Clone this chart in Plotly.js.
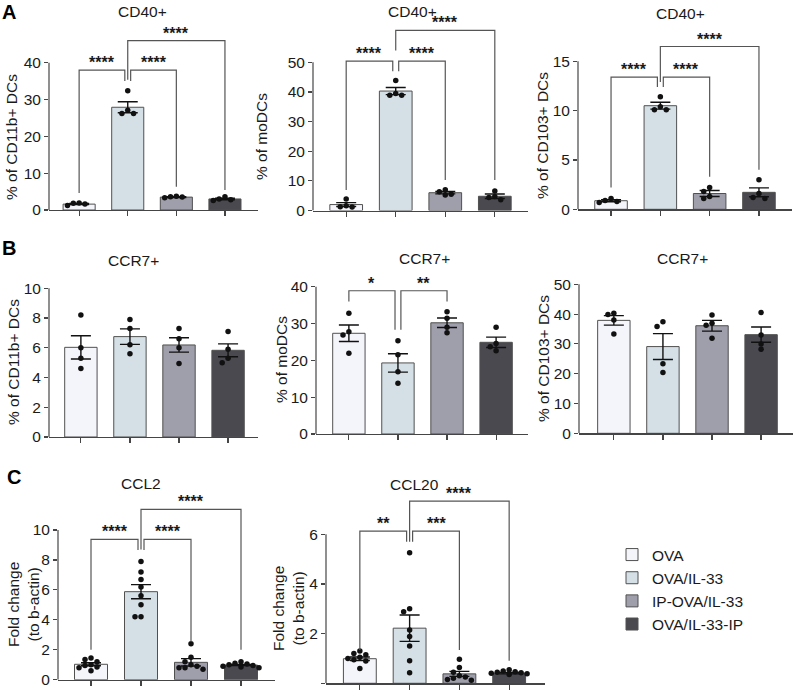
<!DOCTYPE html>
<html><head><meta charset="utf-8">
<script src="https://cdn.plot.ly/plotly-3.0.1.min.js"></script>
<style>html,body{margin:0;padding:0;background:#fff}#chart{width:796px;height:691px}</style>
</head><body><div id="chart"></div>
<script>
// ---------- DATA ----------
const groups = ['OVA', 'OVA/IL-33', 'IP-OVA/IL-33', 'OVA/IL-33-IP'];

// A: CD40+
const cd40Cd11bMean = [1.6, 27.9, 3.5, 3.0];
const cd40Cd11bSem  = [0.15, 1.5, 0.1, 0.2];
const cd40Cd11bDots = [[1.2, 1.6, 1.8, 1.9], [32.4, 26.2, 27.1, 26.2], [3.3, 3.6, 3.7, 3.5], [2.6, 3.0, 3.6, 2.8]];

const cd40MoMean = [2.0, 40.3, 6.0, 4.8];
const cd40MoSem  = [0.65, 1.2, 0.4, 0.75];
const cd40MoDots = [[3.9, 1.3, 1.6, 1.2], [43.9, 38.9, 39.5, 38.9], [5.5, 7.0, 6.3, 5.2], [3.6, 6.6, 4.7, 4.4]];

const cd40Cd103Mean = [0.87, 10.5, 1.6, 1.72];
const cd40Cd103Sem  = [0.1, 0.35, 0.3, 0.45];
const cd40Cd103Dots = [[1.1, 0.9, 0.7, 0.8], [11.4, 10.1, 10.1, 10.4], [2.2, 1.8, 1.3, 1.1], [3.0, 1.6, 1.2, 1.1]];

// B: CCR7+
const ccr7Cd11bMean = [6.03, 6.75, 6.19, 5.83];
const ccr7Cd11bSem  = [0.78, 0.52, 0.48, 0.43];
const ccr7Cd11bDots = [[8.2, 6.0, 4.6, 5.3], [7.9, 7.3, 5.6, 6.2], [7.3, 6.6, 6.0, 4.95], [7.1, 5.9, 5.3, 5.0]];

const ccr7MoMean = [27.35, 19.3, 30.2, 24.9];
const ccr7MoSem  = [2.25, 2.5, 1.3, 1.4];
const ccr7MoDots = [[32.8, 27.8, 26.9, 21.9], [25.3, 21.5, 16.9, 13.8], [33.2, 31.4, 29.0, 27.5], [29.0, 24.6, 23.7, 22.6]];

const ccr7Cd103Mean = [37.9, 29.1, 36.1, 33.1];
const ccr7Cd103Sem  = [1.6, 4.35, 1.8, 2.55];
const ccr7Cd103Dots = [[39.9, 40.3, 38.0, 33.3], [37.4, 35.8, 23.3, 20.4], [39.7, 36.9, 36.3, 31.9], [40.5, 33.0, 30.0, 28.2]];

// C: chemokines
const ccl2Mean = [1.03, 5.88, 1.16, 0.98];
const ccl2Sem  = [0.1, 0.47, 0.25, 0.04];
const ccl2Dots = [[1.45, 1.35, 1.2, 1.0, 0.95, 0.85, 0.8, 0.6], [7.9, 7.2, 6.7, 6.2, 5.6, 5.0, 4.2, 4.2],
                  [2.4, 1.5, 1.2, 1.0, 0.9, 0.8, 0.8, 0.7], [1.2, 1.1, 1.05, 1.0, 0.95, 0.9, 0.85, 0.8]];

const ccl20Mean = [0.99, 2.22, 0.38, 0.41];
const ccl20Sem  = [0.07, 0.53, 0.1, 0.03];
const ccl20Dots = [[1.3, 1.2, 1.15, 1.05, 1.0, 0.95, 0.9, 0.6], [5.26, 3.0, 2.88, 2.15, 1.88, 1.5, 0.91, 0.43],
                   [0.97, 0.64, 0.45, 0.3, 0.25, 0.2, 0.15, 0.12], [0.55, 0.5, 0.47, 0.45, 0.42, 0.4, 0.38, 0.35]];

// significance brackets: [from, to, line level, drop end at "from", drop end at "to", label]
const cd40Cd11bSig = [[0, 1, 38, 4.6, 35, '****'], [1, 2, 38, 35, 6.3, '****'], [1, 3, 46, 35.4, 5.4, '****']];
const cd40MoSig    = [[0, 1, 50.4, 6.9, 47, '****'], [1, 2, 50.4, 47, 10.3, '****'], [1, 3, 60.8, 54, 10.3, '****']];
const cd40Cd103Sig = [[0, 1, 13.4, 2.2, 12.4, '****'], [1, 2, 13.4, 12.4, 3.3, '****'], [1, 3, 16.5, 12.9, 4.0, '****']];
const ccr7MoSig    = [[0, 1, 38.9, 36, 28.3, '*'], [1, 2, 38.9, 28.3, 36, '**']];
const ccl2Sig      = [[0, 1, 9.38, 2.0, 8.66, '****'], [1, 2, 9.38, 8.66, 2.54, '****'], [1, 3, 11.38, 8.7, 2.0, '****']];
const ccl20Sig     = [[0, 1, 6.13, 1.34, 5.7, '**'], [1, 2, 6.13, 5.7, 1.34, '***'], [1, 3, 7.34, 5.7, 0.91, '****']];

// ---------- LAYOUT / STYLE ----------
const W = 796, H = 691;
const FONT = '"Liberation Sans", Arial, sans-serif';
const TXT = '#1a1a1a';
const AXC = '#454545';
const colors = ['#f4f4fb', '#d5e0e6', '#9f9eab', '#4a4950'];

const panels = [
  {mean: cd40Cd11bMean, sem: cd40Cd11bSem, dots: cd40Cd11bDots, sig: cd40Cd11bSig, title: 'CD40+', ytitle: '% of CD11b+ DCs',
   ticks: [0, 10, 20, 30, 40], xL: 49, xR: 258, xr: [-0.62, 3.68], y0: 210, tPx: 62.7, yTop: 47.5, titleXY: [142, 11], ytXY: [12, 137]},
  {mean: cd40MoMean, sem: cd40MoSem, dots: cd40MoDots, sig: cd40MoSig, title: 'CD40+', ytitle: '% of moDCs',
   ticks: [0, 10, 20, 30, 40, 50], xL: 313, xR: 528, xr: [-0.67, 3.67], y0: 210.5, tPx: 62.3, yTop: 62, titleXY: [412, 12], ytXY: [262, 137]},
  {mean: cd40Cd103Mean, sem: cd40Cd103Sem, dots: cd40Cd103Dots, sig: cd40Cd103Sig, title: 'CD40+', ytitle: '% of CD103+ DCs',
   ticks: [0, 5, 10, 15], xL: 578, xR: 792, xr: [-0.67, 3.67], y0: 209.3, tPx: 61.3, yTop: 17.2, titleXY: [680, 13], ytXY: [542, 136]},
  {mean: ccr7Cd11bMean, sem: ccr7Cd11bSem, dots: ccr7Cd11bDots, sig: [], title: 'CCR7+', ytitle: '% of CD11b+ DCs',
   ticks: [0, 2, 4, 6, 8, 10], xL: 49, xR: 258, xr: [-0.65, 3.61], y0: 437, tPx: 288.3, yTop: 10.5, titleXY: [133, 260], ytXY: [14, 362]},
  {mean: ccr7MoMean, sem: ccr7MoSem, dots: ccr7MoDots, sig: ccr7MoSig, title: 'CCR7+', ytitle: '% of moDCs',
   ticks: [0, 10, 20, 30, 40], xL: 316, xR: 528, xr: [-0.67, 3.65], y0: 434, tPx: 286.7, yTop: 42, titleXY: [424, 258], ytXY: [281, 360]},
  {mean: ccr7Cd103Mean, sem: ccr7Cd103Sem, dots: ccr7Cd103Dots, sig: [], title: 'CCR7+', ytitle: '% of CD103+ DCs',
   ticks: [0, 10, 20, 30, 40, 50], xL: 579, xR: 793, xr: [-0.71, 3.65], y0: 433.3, tPx: 284.3, yTop: 51, titleXY: [682, 258], ytXY: [543, 359]},
  {mean: ccl2Mean, sem: ccl2Sem, dots: ccl2Dots, sig: ccl2Sig, title: 'CCL2', ytitle: 'Fold change<br>(to b-actin)',
   ticks: [0, 2, 4, 6, 8, 10], xL: 58, xR: 275, xr: [-0.66, 3.68], y0: 679.7, tPx: 530, yTop: 11.8, titleXY: [141, 483], ytXY: [23, 605]},
  {mean: ccl20Mean, sem: ccl20Sem, dots: ccl20Dots, sig: ccl20Sig, title: 'CCL20', ytitle: 'Fold change<br>(to b-actin)',
   ticks: [0, 2, 4, 6], xL: 326, xR: 545, xr: [-0.68, 3.72], y0: 683.3, tPx: 534.3, yTop: 7.6, titleXY: [415, 484], ytXY: [288, 609]}
];

const panelLetters = [['A', 9, 12], ['B', 9, 248], ['C', 14, 477]];

const data = [];
const layout = {
  width: W, height: H, margin: {l: 0, r: 0, t: 0, b: 0},
  paper_bgcolor: '#fff', plot_bgcolor: 'rgba(0,0,0,0)',
  font: {family: FONT, color: TXT, size: 15},
  barmode: 'overlay', showlegend: true,
  legend: {x: 612 / W, xanchor: 'left', y: 1 - 538 / H, yanchor: 'top', font: {size: 15.5, family: FONT, color: TXT},
           bgcolor: 'rgba(0,0,0,0)', tracegroupgap: 0},
  shapes: [], annotations: []
};

function swarm(vals, ppu, xppu) {
  const step = 0.12, thr = 5;
  const order = vals.map((v, i) => i).sort((a, b) => vals[b] - vals[a]);
  const off = new Array(vals.length).fill(0);
  const placed = [];
  const cand = [0, -1, 1, -2, 2, -3, 3];
  order.forEach(i => {
    let best = 0, bestD = -1;
    for (const k of cand) {
      const o = k * step;
      let minD = Infinity;
      placed.forEach(j => {
        const d = Math.hypot((vals[i] - vals[j]) * ppu, (o - off[j]) * xppu);
        minD = Math.min(minD, d);
      });
      if (minD >= thr) { best = o; bestD = minD; break; }
      if (minD > bestD) { bestD = minD; best = o; }
    }
    off[i] = best;
    placed.push(i);
  });
  return off;
}

panels.forEach((p, i) => {
  const s = i === 0 ? '' : String(i + 1);
  const tmax = p.ticks[p.ticks.length - 1];
  const ppu = (p.y0 - p.tPx) / tmax;
  const topPx = p.y0 - p.yTop * ppu;
  const xppu = (p.xR - p.xL) / (p.xr[1] - p.xr[0]);

  layout['xaxis' + s] = {
    domain: [p.xL / W, p.xR / W], range: p.xr, anchor: 'y' + s,
    showline: true, linecolor: AXC, linewidth: 1.2, zeroline: false, showgrid: false,
    ticks: 'outside', ticklen: 5, tickwidth: 1.2, tickcolor: AXC, tickvals: [0, 1, 2, 3], showticklabels: false, fixedrange: true
  };
  layout['yaxis' + s] = {
    domain: [1 - p.y0 / H, 1 - topPx / H], range: [0, p.yTop], anchor: 'x' + s,
    showline: false, zeroline: false, showgrid: false,
    ticks: 'outside', ticklen: 4, tickwidth: 1.2, tickcolor: AXC, tickvals: p.ticks,
    tickfont: {size: 15.5, family: FONT, color: TXT}, fixedrange: true
  };
  layout.shapes.push({type: 'line', xref: 'x' + s + ' domain', yref: 'y' + s, x0: 0, x1: 0, y0: 0, y1: tmax,
                      line: {color: AXC, width: 1.2}});

  groups.forEach((g, k) => {
    data.push({
      type: 'bar', x: [k], y: [p.mean[k]], width: 0.66, name: g, legendgroup: g, showlegend: i === 0,
      xaxis: 'x' + s, yaxis: 'y' + s, hoverinfo: 'skip',
      marker: {color: colors[k], line: {color: '#505050', width: 1}},
      error_y: {type: 'data', array: [p.sem[k]], visible: true, color: '#111', thickness: 1.4, width: 10}
    });
  });

  const dx = [], dy = [];
  p.dots.forEach((vals, k) => {
    const off = swarm(vals, ppu, xppu);
    vals.forEach((v, j) => { dx.push(k + off[j]); dy.push(v); });
  });
  data.push({type: 'scatter', mode: 'markers', x: dx, y: dy, xaxis: 'x' + s, yaxis: 'y' + s,
             marker: {color: '#111', size: 5.5}, showlegend: false, hoverinfo: 'skip', cliponaxis: false});

  p.sig.forEach(b => {
    const [a, c, yl, d1, d2, lab] = b;
    const x1 = a + (a === 1 && c === 2 ? 0.06 : 0);
    const x2 = c - (a === 0 && c === 1 ? 0.06 : 0);
    layout.shapes.push({type: 'path', xref: 'x' + s, yref: 'y' + s,
      path: `M${x1},${d1} L${x1},${yl} L${x2},${yl} L${x2},${d2}`,
      line: {color: '#555', width: 1.2}});
    layout.annotations.push({xref: 'x' + s, yref: 'y' + s, x: (x1 + x2) / 2, y: yl, yanchor: 'bottom', xanchor: 'center',
      text: lab, showarrow: false, yshift: -3, font: {size: 16, family: FONT, color: TXT, weight: 'bold'}});
  });

  layout.annotations.push({xref: 'paper', yref: 'paper', x: p.titleXY[0] / W, y: 1 - p.titleXY[1] / H,
    xanchor: 'center', yanchor: 'middle', text: p.title, showarrow: false, font: {size: 15.5, family: FONT, color: TXT}});
  layout.annotations.push({xref: 'paper', yref: 'paper', x: p.ytXY[0] / W, y: 1 - p.ytXY[1] / H,
    xanchor: 'center', yanchor: 'middle', text: p.ytitle, textangle: -90, showarrow: false,
    font: {size: 15.5, family: FONT, color: TXT}});
});

panelLetters.forEach(([t, x, y]) => {
  layout.annotations.push({xref: 'paper', yref: 'paper', x: x / W, y: 1 - y / H, xanchor: 'center', yanchor: 'middle',
    text: '<b>' + t + '</b>', showarrow: false, font: {size: 20, family: FONT, color: '#000'}});
});

Plotly.newPlot('chart', data, layout, {displayModeBar: false, staticPlot: true});
</script>
</body></html>
